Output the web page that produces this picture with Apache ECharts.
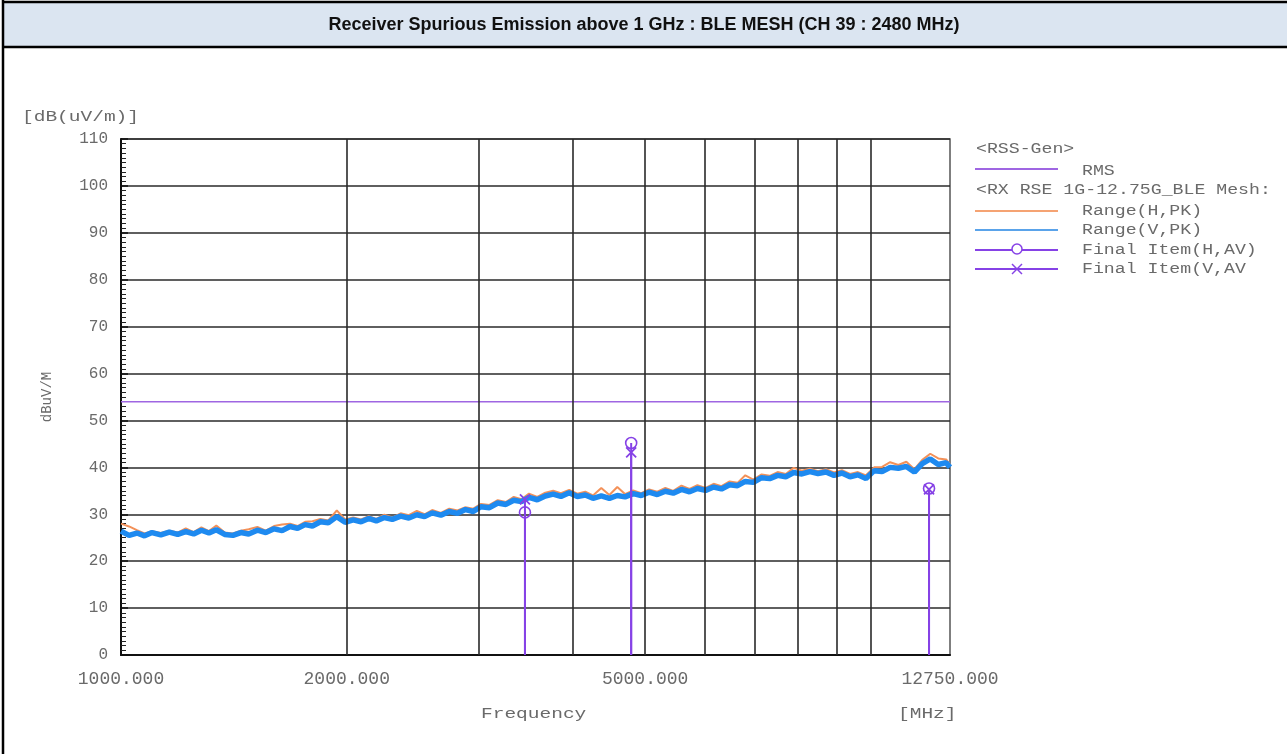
<!DOCTYPE html>
<html>
<head>
<meta charset="utf-8">
<title>Receiver Spurious Emission above 1 GHz</title>
<script src="https://cdn.jsdelivr.net/npm/echarts@6/dist/echarts.min.js"></script>
<style>
  html, body { margin: 0; padding: 0; background: #ffffff; }
  #chart { width: 1287px; height: 754px; }
</style>
</head>
<body>
<div id="chart"></div>
<script>
// Scan frequencies (MHz) of the peak traces
const freqMHz = [
  1000, 1025, 1050, 1075, 1100, 1130, 1160, 1190, 1220, 1250,
  1280, 1310, 1340, 1375, 1410, 1445, 1480, 1520, 1560, 1600,
  1640, 1680, 1720, 1760, 1800, 1845, 1890, 1940, 1990, 2040,
  2090, 2140, 2190, 2245, 2300, 2360, 2420, 2480, 2540, 2600,
  2670, 2740, 2810, 2880, 2950, 3020, 3100, 3180, 3260, 3340,
  3420, 3500, 3590, 3680, 3770, 3860, 3960, 4060, 4160, 4260,
  4370, 4480, 4590, 4700, 4820, 4940, 5060, 5190, 5320, 5450,
  5590, 5730, 5870, 6020, 6170, 6320, 6480, 6640, 6800, 6970,
  7150, 7330, 7510, 7700, 7890, 8090, 8290, 8500, 8710, 8930,
  9150, 9380, 9610, 9850, 10100, 10350, 10610, 10880, 11150, 11430,
  11710, 12000, 12300, 12600, 12750
];

// Range(H,PK) trace, dB(uV/m)
const rangeH_PK = [
  28.0, 27.4, 26.6, 25.9, 26.4, 26.0, 26.5, 26.1, 27.0, 26.2,
  27.2, 26.4, 27.6, 26.1, 25.9, 26.5, 26.8, 27.3, 26.5, 27.5,
  27.8, 28.0, 27.5, 28.4, 28.5, 29.0, 28.7, 30.8, 28.9, 29.3,
  28.9, 29.6, 29.0, 29.9, 29.3, 30.2, 29.8, 30.7, 30.0, 30.9,
  30.3, 31.2, 30.8, 31.5, 31.2, 32.2, 32.0, 33.0, 32.6, 33.7,
  33.2, 34.4, 33.7, 34.6, 35.0, 34.5, 35.2, 34.4, 34.8, 34.0,
  35.6, 34.1, 35.8, 34.3, 35.1, 34.5, 35.3, 34.8, 35.6, 35.0,
  36.1, 35.4, 36.2, 35.6, 36.5, 36.0, 37.0, 36.7, 38.3, 37.4,
  38.5, 38.2, 39.0, 38.6, 39.9, 39.3, 39.7, 39.2, 39.6, 38.9,
  39.4, 38.6, 39.0, 38.3, 40.0, 40.1, 41.1, 40.5, 41.2, 39.6,
  41.6, 42.9, 41.9, 41.7, 40.6
];

// Range(V,PK) trace, dB(uV/m)
const rangeV_PK = [
  26.4, 25.5, 26.0, 25.4, 26.1, 25.6, 26.2, 25.7, 26.3, 25.8,
  26.6, 26.0, 26.7, 25.7, 25.5, 26.1, 25.8, 26.6, 26.1, 26.9,
  26.5, 27.4, 27.0, 27.8, 27.5, 28.4, 28.2, 29.5, 28.3, 28.8,
  28.4, 29.1, 28.6, 29.3, 28.9, 29.6, 29.2, 29.9, 29.5, 30.3,
  29.8, 30.6, 30.2, 31.0, 30.6, 31.6, 31.4, 32.4, 32.1, 33.0,
  32.7, 33.6, 33.1, 33.9, 34.3, 33.8, 34.6, 33.8, 34.1, 33.4,
  33.9, 33.4, 34.0, 33.7, 34.4, 34.0, 34.7, 34.2, 34.9, 34.5,
  35.3, 34.8, 35.5, 35.1, 35.8, 35.4, 36.3, 36.1, 37.0, 36.8,
  37.8, 37.6, 38.3, 38.0, 38.9, 38.6, 39.1, 38.7, 39.0, 38.3,
  38.8, 38.0, 38.4, 37.6, 39.3, 39.1, 40.0, 39.8, 40.2, 39.0,
  40.8, 41.8, 40.6, 41.0, 40.0
];

// Final average measurements
const finalFreqMHz = [3457, 4790, 11955];
const finalH_AV = [30.4, 45.2, 35.5];
const finalV_AV = [33.2, 43.2, 35.3];

// RSS-Gen RMS limit
const rmsLimit = 54;
const rmsSpan = [1000, 12750];

// Vertical grid frequencies and labelled ticks
const gridFreqs = [2000, 3000, 4000, 5000, 6000, 7000, 8000, 9000, 10000];
const xTickValues = [1000, 2000, 5000, 12750];

const PURPLE = '#8642e6';
const RMS_PURPLE = '#9f66e2';
const ORANGE = '#f39159';
const BLUE = '#1e8af0';
const GRID = '#2a2a2a';
const MONO = '"Liberation Mono", "DejaVu Sans Mono", monospace';
const TXT = '#6a6a6a';

const chart = echarts.init(document.getElementById('chart'), null, { renderer: 'canvas' });

function stemSeries(name, values) {
  return {
    name: name,
    type: 'custom',
    z: 5,
    data: finalFreqMHz.map((f, i) => [f, values[i]]),
    renderItem: function (params, api) {
      const top = api.coord([api.value(0), api.value(1)]);
      const base = api.coord([api.value(0), 0]);
      return {
        type: 'line',
        shape: { x1: top[0], y1: top[1], x2: base[0], y2: base[1] },
        style: { stroke: PURPLE, lineWidth: 2 }
      };
    }
  };
}

function legendText(x, y, text) {
  return {
    type: 'text', x: x, y: y, scaleX: 1.3,
    style: { text: text, font: '14px ' + MONO, fill: TXT, verticalAlign: 'middle', textAlign: 'left' }
  };
}
function legendLine(y, color) {
  return { type: 'line', shape: { x1: 975, y1: y, x2: 1058, y2: y }, style: { stroke: color, lineWidth: 2 } };
}

const option = {
  animation: false,
  backgroundColor: '#ffffff',
  grid: {
    left: 121, right: 337, top: 139, bottom: 99,
    show: true, borderColor: '#555', borderWidth: 1.5, backgroundColor: 'transparent'
  },
  xAxis: {
    type: 'log',
    logBase: 10,
    min: 1000,
    max: 12750,
    axisLine: { show: true, lineStyle: { color: '#111', width: 2 } },
    axisTick: { show: false },
    splitLine: { show: false },
    minorSplitLine: { show: false },
    axisLabel: {
      customValues: xTickValues,
      formatter: function (v) { return Number(v).toFixed(3); },
      color: TXT, fontFamily: MONO, fontSize: 18, margin: 15,
      showMinLabel: true, showMaxLabel: true, hideOverlap: false
    }
  },
  yAxis: {
    type: 'value',
    min: 0, max: 110, interval: 10,
    axisLine: { show: true, lineStyle: { color: '#111', width: 2 } },
    axisTick: { show: true, inside: true, length: 7, lineStyle: { color: '#111', width: 1.5 } },
    minorTick: { show: true, splitNumber: 10, length: 5, lineStyle: { color: '#222', width: 1 } },
    splitLine: { show: true, lineStyle: { color: GRID, width: 1.6 } },
    axisLabel: { color: TXT, fontFamily: MONO, fontSize: 16, margin: 13 }
  },
  graphic: [
    // report frame and heading band
    { type: 'rect', shape: { x: 3, y: 3, width: 1284, height: 44 }, style: { fill: '#dbe5f1' } },
    { type: 'line', shape: { x1: 3, y1: 2, x2: 1287, y2: 2 }, style: { stroke: '#000', lineWidth: 2.5 } },
    { type: 'line', shape: { x1: 3, y1: 47, x2: 1287, y2: 47 }, style: { stroke: '#000', lineWidth: 2.5 } },
    { type: 'line', shape: { x1: 3, y1: 0, x2: 3, y2: 754 }, style: { stroke: '#000', lineWidth: 2.5 } },
    {
      type: 'text', x: 644, y: 25,
      style: {
        text: 'Receiver Spurious Emission above 1 GHz : BLE MESH (CH 39 : 2480 MHz)',
        font: 'bold 18px "Liberation Sans", Arial, sans-serif', fill: '#111',
        textAlign: 'center', verticalAlign: 'middle'
      }
    },
    // axis captions
    {
      type: 'text', x: 22, y: 117, scaleX: 1.3,
      style: { text: '[dB(uV/m)]', font: '15px ' + MONO, fill: TXT, verticalAlign: 'middle' }
    },
    {
      type: 'text', x: 47, y: 397, rotation: Math.PI / 2,
      style: { text: 'dBuV/M', font: '14px ' + MONO, fill: TXT, textAlign: 'center', verticalAlign: 'middle' }
    },
    {
      type: 'text', x: 481, y: 714, scaleX: 1.3,
      style: { text: 'Frequency', font: '15px ' + MONO, fill: TXT, verticalAlign: 'middle' }
    },
    {
      type: 'text', x: 898, y: 714, scaleX: 1.3,
      style: { text: '[MHz]', font: '15px ' + MONO, fill: TXT, verticalAlign: 'middle' }
    },
    // legend block
    legendText(976, 149, '<RSS-Gen>'),
    legendLine(169, RMS_PURPLE),
    legendText(1082, 171, 'RMS'),
    legendText(976, 190, '<RX RSE 1G-12.75G_BLE Mesh:'),
    legendLine(211, '#f5a373'),
    legendText(1082, 211, 'Range(H,PK)'),
    legendLine(230, '#5aa3ea'),
    legendText(1082, 230, 'Range(V,PK)'),
    legendLine(250, PURPLE),
    { type: 'circle', shape: { cx: 1017, cy: 249, r: 5 }, style: { fill: '#fff', stroke: PURPLE, lineWidth: 1.5 } },
    legendText(1082, 250, 'Final Item(H,AV)'),
    legendLine(269, PURPLE),
    { type: 'line', shape: { x1: 1012, y1: 264, x2: 1022, y2: 274 }, style: { stroke: PURPLE, lineWidth: 1.5 } },
    { type: 'line', shape: { x1: 1022, y1: 264, x2: 1012, y2: 274 }, style: { stroke: PURPLE, lineWidth: 1.5 } },
    legendText(1082, 269, 'Final Item(V,AV')
  ],
  series: [
    {
      name: 'grid',
      type: 'line',
      data: [],
      silent: true,
      z: 1,
      markLine: {
        silent: true,
        symbol: 'none',
        label: { show: false },
        lineStyle: { color: GRID, width: 1.6, type: 'solid' },
        data: gridFreqs.map(f => ({ xAxis: f }))
      }
    },
    {
      name: 'RMS',
      type: 'line',
      z: 2,
      showSymbol: false,
      data: rmsSpan.map(f => [f, rmsLimit]),
      lineStyle: { color: RMS_PURPLE, width: 1.5 }
    },
    {
      name: 'Range(H,PK)',
      type: 'line',
      z: 3,
      showSymbol: false,
      sampling: 'none',
      data: freqMHz.map((f, i) => [f, rangeH_PK[i]]),
      lineStyle: { color: ORANGE, width: 2 }
    },
    {
      name: 'Range(V,PK)',
      type: 'line',
      z: 4,
      showSymbol: false,
      sampling: 'none',
      data: freqMHz.map((f, i) => [f, rangeV_PK[i]]),
      lineStyle: { color: BLUE, width: 5.5 }
    },
    stemSeries('Final Item(H,AV) stem', finalH_AV),
    stemSeries('Final Item(V,AV) stem', finalV_AV),
    {
      name: 'Final Item(H,AV)',
      type: 'scatter',
      z: 6,
      symbol: 'circle',
      symbolSize: 11,
      data: finalFreqMHz.map((f, i) => [f, finalH_AV[i]]),
      itemStyle: { color: 'rgba(0,0,0,0)', borderColor: PURPLE, borderWidth: 1.6, opacity: 1 }
    },
    {
      name: 'Final Item(V,AV)',
      type: 'scatter',
      z: 6,
      symbol: 'path://M0,0L10,10M10,0L0,10',
      symbolSize: 10,
      data: finalFreqMHz.map((f, i) => [f, finalV_AV[i]]),
      itemStyle: { color: 'rgba(0,0,0,0)', borderColor: PURPLE, borderWidth: 1.8, opacity: 1 }
    }
  ]
};

chart.setOption(option);
</script>
</body>
</html>
